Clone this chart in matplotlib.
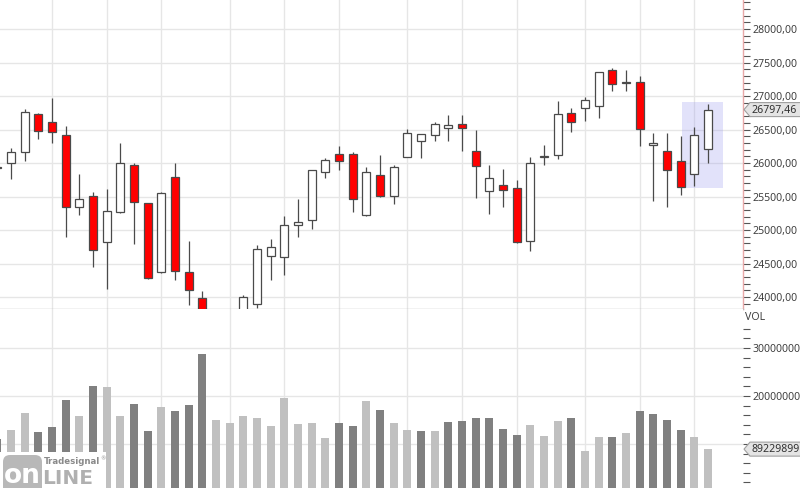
import numpy as np
import matplotlib
matplotlib.use("Agg")
import matplotlib.pyplot as plt
from matplotlib.patches import Polygon, Rectangle, FancyBboxPatch
from matplotlib.ticker import MultipleLocator, FixedLocator, FuncFormatter

# ---------------- data (one entry per session, oldest first) ----------------
opens = [25940, 26000, 26164, 26731, 26612, 26418, 25343, 25508, 24821, 25269,
         25970, 25403, 24373, 25791, 24373, 23985, 23400, 23580, 23760, 23896,
         24612, 24597, 25075, 25149, 25866, 26134, 26134, 25224, 25821, 25508,
         26090, 26328, 26418, 26522, 26582, 26179, 25582, 25672, 25627, 24836,
         26090, 26119, 26746, 26821, 26851, 27388, 27194, 27209, 26269, 26179,
         26030, 25836, 26209]
highs = [26010, 26224, 26806, 26745, 26970, 26552, 25836, 25567, 25612, 26299,
         26000, 25410, 25567, 26000, 24836, 24090, 23700, 23780, 24030, 24776,
         24866, 25209, 25463, 25900, 26075, 26254, 26164, 25940, 26119, 25970,
         26507, 26440, 26612, 26716, 26716, 26493, 25970, 25910, 25746, 26090,
         26269, 26925, 26821, 26985, 27365, 27418, 27388, 27299, 26448, 26448,
         26403, 26537, 26881]
lows = [25880, 25761, 26030, 26358, 26299, 24896, 25224, 24448, 24120, 25260,
        24791, 24269, 24365, 24254, 23881, 23300, 23200, 23420, 23650, 23836,
        24254, 24328, 24896, 25015, 25776, 25896, 25269, 25215, 25500, 25388,
        26085, 26075, 26328, 26328, 26179, 25478, 25239, 25343, 24810, 24687,
        25970, 26060, 26463, 26627, 26672, 27075, 27075, 26254, 25433, 25343,
        25522, 25657, 26000]
closes = [25925, 26164, 26761, 26478, 26463, 25343, 25463, 24702, 25284, 26000,
          25418, 24284, 25552, 24388, 24105, 23450, 23620, 23740, 24000, 24717,
          24746, 25075, 25119, 25896, 26045, 26037, 25463, 25866, 25508, 25940,
          26448, 26433, 26582, 26567, 26522, 25955, 25776, 25597, 24821, 26000,
          26112, 26731, 26612, 26940, 27358, 27179, 27209, 26507, 26299, 25896,
          25642, 26418, 26797.46]
volumes = [11.04, 12.92, 16.46, 12.50, 13.54, 19.17, 15.83, 22.08, 21.88, 15.83,
           18.33, 12.71, 17.71, 16.88, 18.13, 28.75, 15.00, 14.38, 15.83, 15.42,
           13.75, 19.58, 14.17, 14.38, 11.25, 14.38, 13.75, 18.96, 17.08, 14.38,
           12.92, 12.71, 12.71, 14.58, 14.79, 15.42, 15.42, 13.13, 11.88, 13.96,
           11.67, 14.79, 15.42, 8.54, 11.46, 11.46, 12.29, 16.88, 16.25, 15.00,
           12.92, 11.46, 8.922990]  # millions
close_before_first = 26050.0
grid_bars = [4, 8, 12, 17, 21, 25, 30, 34, 38, 43, 47, 51]   # session boundaries with grid lines
price_ticks = [24000, 24500, 25000, 25500, 26000, 26500, 27000, 27500, 28000]
vol_ticks = [10e6, 20e6, 30e6]
vol_tick_labels = ["", "20000000", "30000000"]   # 10000000 is hidden behind the last-volume tag
last_close_label = "26797,46"
last_vol_label = "89229899"
vol_label = "VOL"

# ---------------- styling ----------------
W, H = 800, 488
FONT = "Noto Sans"
RED = "#ff0000"
EDGE = "#4a4a4a"
GRID = "#e6e6e6"
TXT = "#404040"
VOL_DOWN = "#808080"
VOL_UP = "#c0c0c0"

o = np.array(opens, float); h = np.array(highs, float)
l = np.array(lows, float); c = np.array(closes, float)
v = np.array(volumes, float) * 1e6
x = np.arange(len(o), dtype=float)
up = c >= o
vol_up = np.diff(c, prepend=close_before_first) > 0

fig = plt.figure(figsize=(W / 100, H / 100), dpi=100)
fig.patch.set_facecolor("white")

AX_RIGHT = 743 / W
SPLIT = 309
ax_p = fig.add_axes([0, 1 - SPLIT / H, AX_RIGHT, SPLIT / H])
ax_v = fig.add_axes([0, 0, AX_RIGHT, 1 - SPLIT / H])

xlim = (0.195, 54.56)
for ax in (ax_p, ax_v):
    ax.set_xlim(*xlim)
    ax.set_xticks(grid_bars)
    ax.tick_params(axis="x", length=0, labelbottom=False)
    ax.grid(True, axis="both", color=GRID, linewidth=1.0, zorder=0)
    ax.set_axisbelow(True)
    ax.set_facecolor("white")
    for s in ax.spines.values():
        s.set_visible(False)

# ---- price panel ----
ax_p.set_ylim(23821, 28433)
hx0 = x[-2] - 0.9
hx1 = x[-1] + 1.1
hy0 = min(l[-2:]) - 30
hy1 = max(h[-2:]) + 30
ax_p.add_patch(Rectangle((hx0, hy0), hx1 - hx0, hy1 - hy0, facecolor="#9999ee",
                         alpha=0.28, edgecolor="none", zorder=1))

ax_p.vlines(x, l, h, color=EDGE, linewidth=0.9, zorder=2)
body_lo = np.minimum(o, c)
body_h = np.maximum(np.abs(c - o), 8)
ax_p.bar(x, body_h, bottom=body_lo, width=0.58,
         color=np.where(up, "white", RED), edgecolor=EDGE, linewidth=0.9, zorder=3)

ax_p.spines["right"].set_visible(True)
ax_p.spines["right"].set_color("#e8a8a8")
ax_p.spines["right"].set_linewidth(1.0)
ax_p.spines["bottom"].set_visible(True)
ax_p.spines["bottom"].set_color("#bdbdbd")
ax_p.spines["bottom"].set_linewidth(1.0)

ax_p.yaxis.tick_right()
ax_p.yaxis.set_major_locator(FixedLocator(price_ticks))
ax_p.yaxis.set_minor_locator(MultipleLocator(100))
ax_p.yaxis.set_major_formatter(FuncFormatter(lambda val, pos: f"{val:.2f}".replace(".", ",")))
ax_p.tick_params(axis="y", which="both", direction="out", length=5, width=0.8,
                 color="#555555", pad=2, labelsize=7.6, labelcolor=TXT)
for t in ax_p.get_yticklabels():
    t.set_fontfamily(FONT)

# ---- volume panel ----
ax_v.set_ylim(0.83e6, 38.1e6)
ax_v.bar(x, v, width=0.58, color=np.where(vol_up, VOL_UP, VOL_DOWN), linewidth=0, zorder=3)
ax_v.yaxis.tick_right()
ax_v.set_yticks(vol_ticks)
ax_v.set_yticklabels(vol_tick_labels, family=FONT)
ax_v.yaxis.set_minor_locator(FixedLocator(np.arange(2e6, 35e6, 2e6)))
ax_v.tick_params(axis="y", which="both", direction="out", length=5, width=0.8,
                 color="#555555", pad=2, labelsize=7.6, labelcolor=TXT)

# ---- overlay in pixel coordinates (top-down) ----
ov = fig.add_axes([0, 0, 1, 1], zorder=10)
ov.set_xlim(0, W)
ov.set_ylim(H, 0)
ov.axis("off")
ov.patch.set_alpha(0)

fig.canvas.draw()

def to_px(ax, xv, yv):
    dx, dy = ax.transData.transform((xv, yv))
    return dx, H - dy

def tag(ypx, label):
    poly = Polygon([(744, ypx), (750, ypx - 7), (806, ypx - 7), (806, ypx + 7), (750, ypx + 7)],
                   closed=True, facecolor="#e4e4e4", edgecolor="#a0a0a0", linewidth=0.8)
    ov.add_patch(poly)
    ov.text(752, ypx + 0.5, label, ha="left", va="center", fontsize=7.6,
            color="#303030", family=FONT)

_, y_close = to_px(ax_p, x[-1], c[-1])
tag(y_close, last_close_label)
_, y_vol = to_px(ax_v, x[-1], v[-1])
tag(y_vol, last_vol_label)

ov.text(745, 317, vol_label, ha="left", va="center", fontsize=7.6, color=TXT, family=FONT)

# logo
ov.add_patch(Rectangle((0, 452), 106, 40, facecolor="white", edgecolor="none"))
ov.add_patch(FancyBboxPatch((3, 455), 39, 40, boxstyle="round,pad=0,rounding_size=7",
                            facecolor="#b8b8b8", edgecolor="none"))
ov.text(22.5, 476, "on", ha="center", va="center", fontsize=19, fontweight="bold",
        color="white", family="DejaVu Sans")
ov.text(42.5, 479, "LINE", ha="left", va="center", fontsize=14.5, fontweight="bold",
        color="#b0b0b0", family="DejaVu Sans")
ov.text(44, 462, "Tradesignal", ha="left", va="center", fontsize=6.2, fontweight="bold",
        color="#8a8a8a", family="DejaVu Sans")
ov.text(100, 459, "®", ha="left", va="center", fontsize=3.8, color="#8a8a8a", family="DejaVu Sans")

fig.savefig("out.png", dpi=100)
